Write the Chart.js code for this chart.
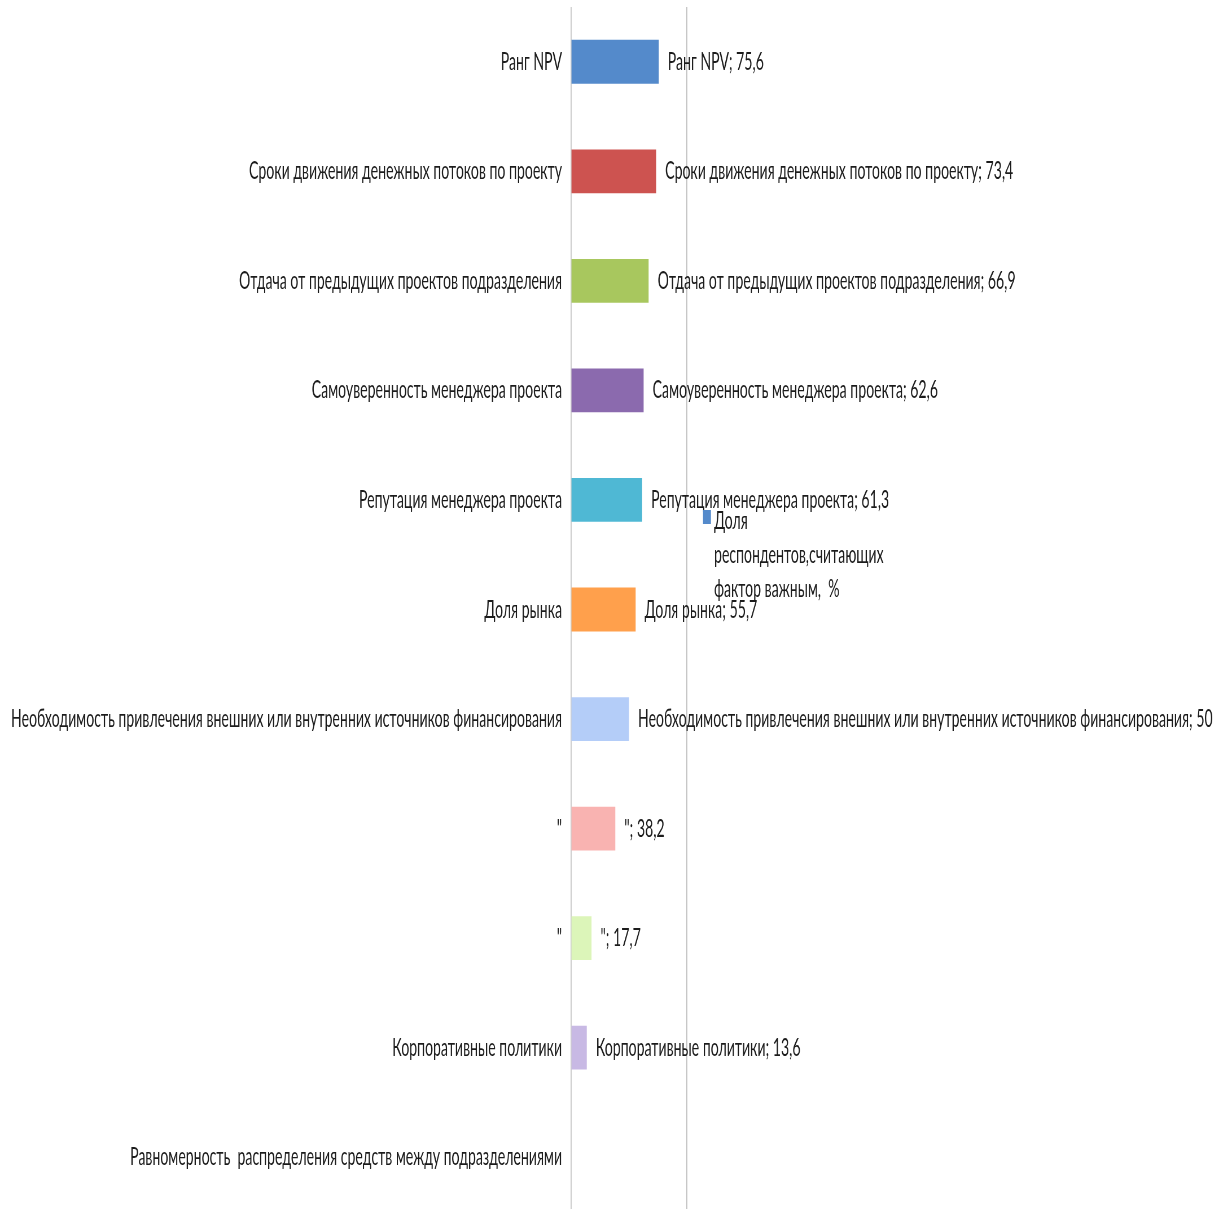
<!DOCTYPE html>
<html lang="ru">
<head>
<meta charset="utf-8">
<title>Факторы, влияющие на распределение капитала</title>
<script src="https://cdn.jsdelivr.net/npm/chart.js@4.4.1/dist/chart.umd.min.js"></script>
<style>
  html, body { margin: 0; padding: 0; background: #ffffff; overflow: hidden; }
  #wrap { position: absolute; left: 0; top: 0; transform-origin: 0 0; }
</style>
</head>
<body>
<div id="wrap"><canvas id="chart"></canvas></div>
<script>
// Categories (top to bottom)
const CATEGORIES = [
  'Ранг NPV',
  'Сроки движения денежных потоков по проекту',
  'Отдача от предыдущих проектов подразделения',
  'Самоуверенность менеджера проекта',
  'Репутация менеджера проекта',
  'Доля рынка',
  'Необходимость привлечения внешних или внутренних источников финансирования',
  '"',
  '"',
  'Корпоративные политики',
  'Равномерность  распределения средств между подразделениями'
];

// Share of respondents who consider the factor important, %
const VALUES = [75.6, 73.4, 66.9, 62.6, 61.3, 55.7, 50, 38.2, 17.7, 13.6, null];

const BAR_COLORS = [
  '#548acb', '#cd5350', '#a8c75e', '#8b6aae', '#4fb8d4',
  '#ffa04c', '#b4cdf8', '#f9b3b1', '#dcf5b9', '#c8b9e4', '#cccccc'
];

// Legend text, broken into lines
const LEGEND_LINES = ['Доля', 'респондентов,считающих', 'фактор важным,  %'];
const SERIES_NAME = LEGEND_LINES.join(' ');

// Value axis gridlines
const X_TICKS = [0, 100];

const FONT_SIZE = 25;
const FONT_FAMILY = "Lato, 'Liberation Sans', 'DejaVu Sans', sans-serif";
const TEXT_COLOR = '#1c1c1c';

// The chart is drawn wide and squeezed horizontally, giving the narrow lettering.
const probe = document.createElement('canvas').getContext('2d');
probe.font = FONT_SIZE + 'px ' + FONT_FAMILY;
const SQUEEZE = 551 / probe.measureText(CATEGORIES[6]).width;

const VIEW_W = 1223, VIEW_H = 1214;
const AXIS_X = 571, AXIS_END_X = 687;            // on-screen positions of 0 and 100
const W = Math.round(VIEW_W / SQUEEZE);

const wrap = document.getElementById('wrap');
wrap.style.width = W + 'px';
wrap.style.height = VIEW_H + 'px';
wrap.style.transform = 'scaleX(' + SQUEEZE + ')';
const canvas = document.getElementById('chart');
canvas.width = W; canvas.height = VIEW_H;
canvas.style.width = W + 'px'; canvas.style.height = VIEW_H + 'px';

const fmt = v => String(v).replace('.', ',');

// Data labels: "<category>; <value>" just right of each bar
const barLabels = {
  id: 'barLabels',
  afterDatasetsDraw(chart) {
    const ctx = chart.ctx;
    const meta = chart.getDatasetMeta(0);
    ctx.save();
    ctx.font = FONT_SIZE + 'px ' + FONT_FAMILY;
    ctx.fillStyle = TEXT_COLOR;
    ctx.textAlign = 'left';
    ctx.textBaseline = 'middle';
    meta.data.forEach((bar, i) => {
      const v = VALUES[i];
      if (v === null || v === undefined) return;
      ctx.fillText(CATEGORIES[i] + '; ' + fmt(v), bar.x + 9 / SQUEEZE, bar.y);
    });
    ctx.restore();
  }
};

// Legend block inside the plot
const sideLegend = {
  id: 'sideLegend',
  afterDraw(chart) {
    const ctx = chart.ctx;
    const ds = chart.data.datasets[0];
    ctx.save();
    ctx.fillStyle = ds.backgroundColor[0];
    ctx.fillRect(703 / SQUEEZE, 510, 14, 14);
    ctx.font = FONT_SIZE + 'px ' + FONT_FAMILY;
    ctx.fillStyle = TEXT_COLOR;
    ctx.textAlign = 'left';
    ctx.textBaseline = 'alphabetic';
    LEGEND_LINES.forEach((line, k) => {
      ctx.fillText(line, 714 / SQUEEZE, 529 + k * 34);
    });
    ctx.restore();
  }
};

new Chart(canvas, {
  type: 'bar',
  data: {
    labels: CATEGORIES,
    datasets: [{
      label: SERIES_NAME,
      data: VALUES,
      backgroundColor: BAR_COLORS,
      borderWidth: 0,
      barPercentage: 0.4,
      categoryPercentage: 1.0
    }]
  },
  options: {
    indexAxis: 'y',
    responsive: false,
    animation: false,
    devicePixelRatio: 1,
    layout: {
      padding: { left: 0, right: W - AXIS_END_X / SQUEEZE, top: 7, bottom: 2 }
    },
    plugins: {
      legend: { display: false },
      tooltip: { enabled: false }
    },
    scales: {
      x: {
        min: 0,
        max: 100,
        afterBuildTicks(scale) { scale.ticks = X_TICKS.map(v => ({ value: v })); },
        afterFit(scale) {
          scale.height = 0;
          scale.paddingLeft = 0; scale.paddingRight = 0;
          scale.paddingTop = 0; scale.paddingBottom = 0;
        },
        ticks: { display: false },
        grid: { color: '#bfbfbf', lineWidth: 1 / SQUEEZE, drawTicks: false },
        border: { display: false }
      },
      y: {
        afterFit(scale) {
          scale.width = AXIS_X / SQUEEZE;
          scale.paddingTop = 0; scale.paddingBottom = 0;
        },
        grid: { display: false, drawTicks: false },
        border: { display: false },
        ticks: {
          autoSkip: false,
          padding: 9 / SQUEEZE,
          color: TEXT_COLOR,
          font: { size: FONT_SIZE, family: FONT_FAMILY }
        }
      }
    }
  },
  plugins: [barLabels, sideLegend]
});
</script>
</body>
</html>
